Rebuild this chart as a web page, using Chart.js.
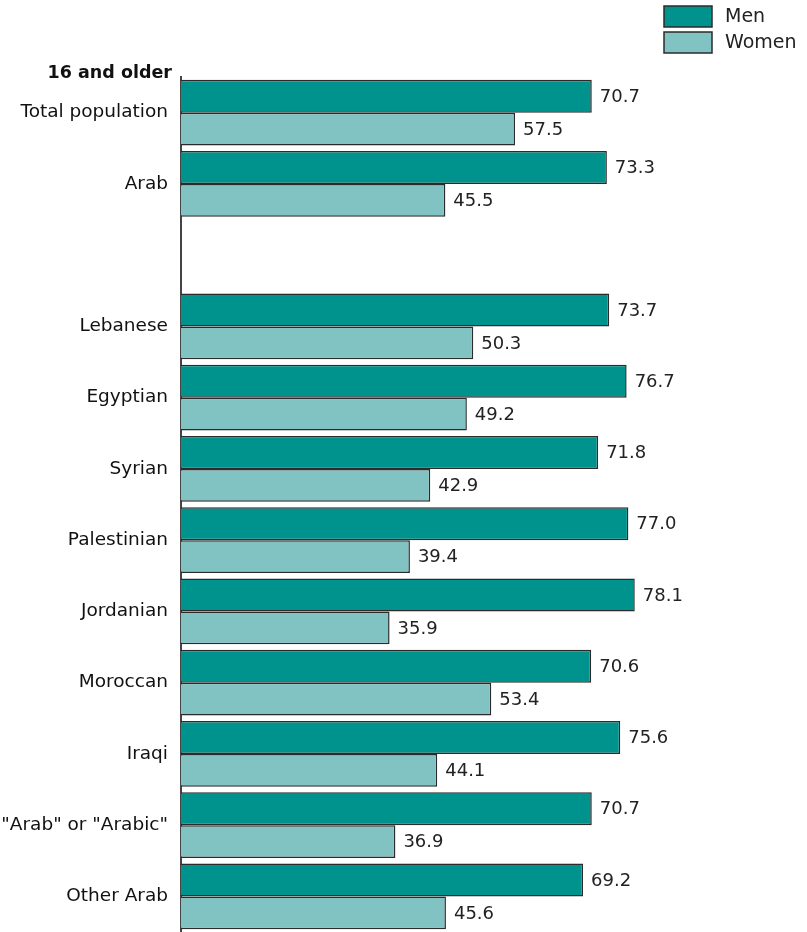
<!DOCTYPE html>
<html>
<head>
<meta charset="utf-8">
<script src="https://cdn.jsdelivr.net/npm/chart.js@4.4.0/dist/chart.umd.min.js"></script>
<style>
  body { margin: 0; background: #fff; }
  #wrap { width: 807px; height: 932px; overflow: hidden; }
</style>
</head>
<body>
<div id="wrap"><canvas id="grafica" width="807" height="932"></canvas></div>
<script>
// employment rates, 16 and older
const categories = ["Total population", "Arab", "", "Lebanese", "Egyptian", "Syrian", "Palestinian",
  "Jordanian", "Moroccan", "Iraqi", "\"Arab\" or \"Arabic\"", "Other Arab"];
const men   = [70.7, 73.3, null, 73.7, 76.7, 71.8, 77.0, 78.1, 70.6, 75.6, 70.7, 69.2];
const women = [57.5, 45.5, null, 50.3, 49.2, 42.9, 39.4, 35.9, 53.4, 44.1, 36.9, 45.6];
const seriesNames = ["Men", "Women"];
const groupTitle = "16 and older";

const FONT = "'DejaVu Sans', sans-serif";
const colMen = "rgb(0,146,140)";
const colWomen = "rgb(129,195,194)";
const edge = "#2b2b2b";

// labels at the end of each bar
const valueLabels = {
  id: "valueLabels",
  afterDatasetsDraw(chart) {
    const ctx = chart.ctx;
    ctx.save();
    ctx.font = "18px " + FONT;
    ctx.fillStyle = "#222";
    ctx.textAlign = "left";
    ctx.textBaseline = "middle";
    chart.data.datasets.forEach((ds, i) => {
      chart.getDatasetMeta(i).data.forEach((bar, j) => {
        if (ds.data[j] == null) return;
        ctx.fillText(ds.data[j].toFixed(1), bar.x + 8, bar.y + 1);
      });
    });
    ctx.restore();
  }
};

// legend in the top right corner + group title
const extras = {
  id: "extras",
  afterDraw(chart) {
    const ctx = chart.ctx;
    ctx.save();
    chart.data.datasets.forEach((ds, i) => {
      const y = 6 + i * 26;
      ctx.fillStyle = ds.backgroundColor;
      ctx.fillRect(664, y, 48, 21);
      ctx.strokeStyle = edge;
      ctx.lineWidth = 1.5;
      ctx.strokeRect(664, y, 48, 21);
      ctx.fillStyle = "#222";
      ctx.font = "19px " + FONT;
      ctx.textBaseline = "middle";
      ctx.fillText(ds.label, 725, y + 11);
    });
    ctx.font = "bold 17.5px " + FONT;
    ctx.textAlign = "right";
    ctx.textBaseline = "middle";
    ctx.fillStyle = "#111";
    ctx.fillText(groupTitle, 172, 73);
    ctx.restore();
  }
};

const data = {
  labels: categories,
  datasets: [
    { label: seriesNames[0], data: men, backgroundColor: colMen, borderColor: edge, borderWidth: 1.5 },
    { label: seriesNames[1], data: women, backgroundColor: colWomen, borderColor: edge, borderWidth: 1.5 }
  ]
};

const config = {
  type: "bar",
  data: data,
  plugins: [valueLabels, extras],
  options: {
    indexAxis: "y",
    responsive: false,
    animation: false,
    categoryPercentage: 0.925,
    barPercentage: 1,
    layout: { padding: { top: 77, right: 45, bottom: 0, left: 0 } },
    plugins: { legend: { display: false }, tooltip: { enabled: false } },
    scales: {
      x: { display: false, min: 0, max: 100 },
      y: {
        grid: { display: false, drawTicks: false },
        border: { display: true, color: "#444", width: 2 },
        ticks: { color: "#111", font: { family: FONT, size: 18.5 }, padding: 13 },
        afterFit(scale) {
          scale.width = 181;
          scale.paddingTop = 0;
          scale.paddingBottom = 0;
        }
      }
    }
  }
};

let myChart = new Chart(document.getElementById("grafica"), config);
</script>
</body>
</html>
